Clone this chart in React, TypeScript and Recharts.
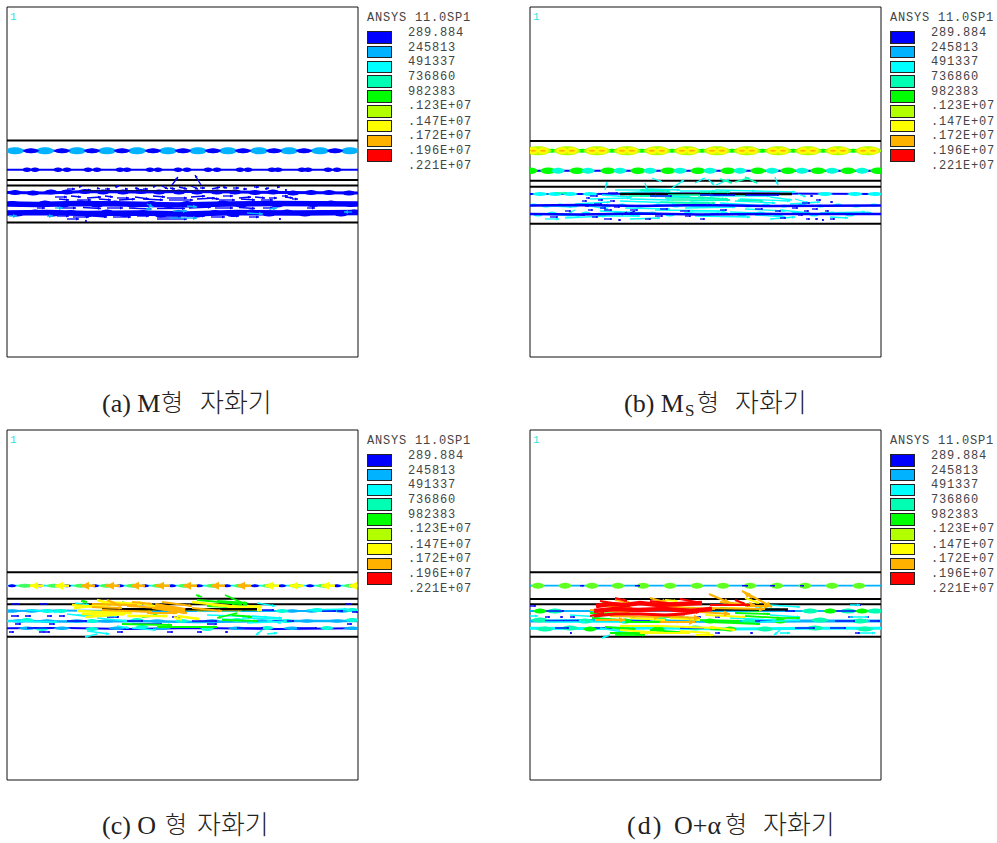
import React from "react";
import { ScatterChart, Scatter, XAxis, YAxis, ReferenceArea } from "recharts";

type P = [number, number];
type V = [number, number, number, number];

// legend
const LEGEND_COLORS = ["#0000ff", "#00b2ff", "#00ffff", "#00ffb2", "#00ff00", "#b2ff00", "#ffff00", "#ffb200", "#ff0000"];
const LEGEND_LABELS = ["289.884", "245813", "491337", "736860", "982383", ".123E+07", ".147E+07", ".172E+07", ".196E+07", ".221E+07"];
const [BLUE, SKY, CYAN, SPRING, GREEN, LIME, YELLOW, ORANGE, RED] = LEGEND_COLORS;
const BLACK = "#000000";

// horizontal outlines (depth of each steel / air boundary per panel)
const A_PLATES = [133.5, 173, 178.5, 215.5];
const B_PLATES = [134, 173.7, 179.7, 216.7];
const C_PLATES = [142.3, 168.7, 174.3, 206.7];
const D_PLATES = [142.3, 169, 174.3, 206.7];

// Panel A
const A_LINE_1: P[] = [[0, 143.7], [351, 143.7]];
const A_LINE_2: P[] = [[0, 162.7], [351, 162.7]];
const A_LINE_3: P[] = [[0, 185.5], [40, 186], [80, 184.5], [130, 185], [180, 184.5], [230, 185], [280, 185.5], [351, 186]];
const A_LINE_4: P[] = [[0, 197], [30, 197.5], [70, 196.5], [120, 197], [170, 198], [220, 197], [270, 196.5], [351, 197]];
const A_LINE_5: P[] = [[0, 206], [40, 205.5], [80, 206.5], [130, 206], [180, 207], [230, 205.5], [290, 206], [351, 205.5]];
const A_SKY_BLOBS: P[] = [[8, 143.7], [38, 143.7], [70, 143.7], [100, 143.7], [130, 143.7], [161, 143.7], [191, 143.7], [221, 143.7], [252, 143.7], [282, 143.7], [313, 143.7], [343, 143.7]];
const A_BLUE_BLOBS: P[] = [[24, 143.7], [55, 143.7], [85, 143.7], [115, 143.7], [146, 143.7], [176, 143.7], [206, 143.7], [236, 143.7], [267, 143.7], [297, 143.7], [328, 143.7]];
const A_SMALL_BLOBS: P[] = [[20, 162.7], [28, 162.7], [51, 162.7], [60, 162.7], [81, 162.7], [90, 162.7], [113, 162.7], [120, 162.7], [143, 162.7], [151, 162.7], [171, 162.7], [180, 162.7], [201, 162.7], [210, 162.7], [233, 162.7], [241, 162.7], [265, 162.7], [271, 162.7], [295, 162.7], [301, 162.7], [321, 162.7], [330, 162.7]];
const A_LUMPS: P[] = [
  [8, 185.5], [26, 186], [44, 185], [60, 185], [78, 184.5], [96, 185], [116, 185], [134, 184.5], [152, 185], [172, 185], [190, 185], [210, 185], [228, 185], [248, 185.5], [266, 185], [286, 186], [304, 185.5], [322, 185.5], [342, 186],
  [6, 196.5], [22, 197.5], [38, 196], [56, 198], [74, 196], [90, 198], [108, 196], [126, 198], [144, 196.5], [162, 198.5], [180, 196.5], [198, 198], [216, 196], [234, 198], [252, 196.5], [270, 198], [288, 196.5], [306, 197.5], [324, 196], [344, 197.5],
  [10, 207], [28, 205], [46, 207], [64, 205.5], [82, 207.5], [100, 205], [118, 207.5], [136, 205.5], [154, 208], [172, 205.5], [190, 208], [208, 205.5], [226, 207.5], [244, 205], [262, 207], [280, 205], [298, 207], [316, 205.5], [334, 207], [347, 205],
];
const A_ARROWS_BLUE: V[] = [
  [60, 182, 8, 0], [72, 180, 3, -1], [80, 183, 4, 0], [90, 181, 3, 1], [98, 182, 5, 0], [108, 180, 4, -1], [118, 182, 3, 0], [128, 181, 4, 1], [136, 182, 5, 0], [146, 180, 3, -1],
  [155, 179, 6, 3], [163, 181, 5, 1], [172, 180, 8, 2], [184, 179, 7, 3], [193, 181, 5, 0], [205, 182, 8, -2], [216, 180, 4, 1], [226, 181, 6, 0], [236, 182, 4, 0], [247, 180, 5, 0], [258, 182, 4, -1], [270, 180, 3, 0], [278, 183, 2, 0],
  [165, 178, 6, -8], [194, 178, -6, -10],
  [48, 190, 12, 0], [64, 189, 10, 1], [80, 191, 14, -1], [98, 189, 8, 1], [110, 191, 12, 0], [128, 190, 14, 2], [146, 189, 12, 1], [160, 191, 20, 0], [184, 190, 14, -1], [200, 191, 12, 1], [216, 189, 10, 0], [232, 191, 12, -1], [248, 190, 10, 1], [262, 191, 8, 0], [275, 189, 6, 0],
  [52, 192, 10, 1], [70, 193, 14, 0], [92, 192, 12, 1], [112, 193, 16, -1], [136, 192, 20, 1], [162, 193, 24, 0], [190, 192, 18, -1], [212, 193, 16, 0], [234, 192, 14, 1], [254, 193, 12, 0], [278, 190, 8, 1], [285, 192, 6, 0],
  [55, 201, 14, 0], [76, 200.5, 18, 1], [100, 201, 16, 0], [122, 201, 22, 1], [150, 201.5, 28, 0], [182, 201, 22, -1], [208, 201, 18, 0], [232, 200.5, 16, 1], [256, 201, 10, 0], [30, 201, 8, 0], [300, 201, 8, 0],
  [50, 209, 12, 0], [66, 210, 16, 0], [60, 212, 12, 0], [86, 209, 14, 1], [106, 210, 18, 0], [130, 209, 12, 0], [150, 210, 24, 0], [180, 209, 18, 0], [204, 210, 14, 0], [224, 209, 8, 0], [78, 214, 2, 0], [272, 212, 2, 0], [242, 210, 10, 0], [150, 212, 30, 0],
];
const A_ARROWS_SKY: V[] = [[162, 211, 28, 0], [48, 201, 8, 0], [145, 202, -6, 0], [140, 197, 6, 3], [240, 206, 16, 1], [262, 202, 8, -1], [2, 209, 8, 0], [40, 209, 6, 0], [166, 204, 14, 0], [180, 199, 10, 1], [345, 205, -8, 0]];
const A_PLATE_BLACK: P[] = [[75, 183.6], [232, 183.6]];

// Panel B
const B_TOP_LINE: P[] = [[0, 143.7], [351, 143.7]];
const B_MID_LINE: P[] = [[0, 163.7], [351, 163.7]];
const B_LOW_1: P[] = [[0, 187], [60, 187], [120, 186.5], [230, 186.5], [351, 187]];
const B_LOW_2: P[] = [[0, 198.5], [50, 198], [110, 199], [170, 198], [240, 199], [351, 198.5]];
const B_LOW_3: P[] = [[0, 207], [50, 207.5], [110, 206.5], [170, 207.5], [240, 207], [351, 207]];
const B_CLUSTERS: P[] = [[8, 143.7], [37, 143.7], [67, 143.7], [97, 143.7], [127, 143.7], [157, 143.7], [187, 143.7], [217, 143.7], [248, 143.7], [278, 143.7], [308, 143.7], [338, 143.7]];
const B_YELLOW_LOBES: P[] = [[3, 143.7], [13, 143.7], [32, 143.7], [42, 143.7], [62, 143.7], [72, 143.7], [92, 143.7], [102, 143.7], [122, 143.7], [132, 143.7], [152, 143.7], [162, 143.7], [182, 143.7], [192, 143.7], [212, 143.7], [222, 143.7], [243, 143.7], [253, 143.7], [273, 143.7], [283, 143.7], [303, 143.7], [313, 143.7], [333, 143.7], [343, 143.7]];
const B_SPRING_GAPS: P[] = [[22, 143.7], [52, 143.7], [82, 143.7], [112, 143.7], [142, 143.7], [172, 143.7], [202, 143.7], [232, 143.7], [263, 143.7], [293, 143.7], [323, 143.7]];
const B_GREEN_BLOBS: P[] = [[0, 163.7], [18, 163.7], [47, 163.7], [78, 163.7], [108, 163.7], [138, 163.7], [168, 163.7], [198, 163.7], [228, 163.7], [258, 163.7], [288, 163.7], [318, 163.7], [348, 163.7]];
const B_CYAN_BLOBS: P[] = [[28, 163.7], [58, 163.7], [90, 163.7], [120, 163.7], [150, 163.7], [180, 163.7], [210, 163.7], [242, 163.7], [272, 163.7], [302, 163.7], [332, 163.7]];
const B_LOW_BLOBS: P[] = [[25, 187], [40, 187], [60, 187], [295, 187], [325, 187], [345, 187], [10, 187]];
const B_LOW_SPECKS: P[] = [
  [4, 198], [16, 199], [30, 198], [44, 199], [60, 198], [76, 199], [92, 198], [110, 199], [128, 198], [146, 199], [164, 198], [182, 199], [200, 198], [218, 199], [236, 198], [254, 199], [272, 198], [290, 199], [308, 198], [326, 199], [344, 198],
  [8, 208], [22, 206], [38, 208], [56, 206], [72, 208], [88, 206], [104, 208], [122, 206], [140, 208], [158, 206], [176, 208], [194, 206], [212, 208], [230, 206], [248, 208], [266, 206], [284, 208], [302, 206], [320, 208], [338, 206],
];
const B_PLATE_BLACK: P[] = [[90, 187], [262, 187]];
const B_ARROWS_CYAN: V[] = [
  [75, 183, 2, -8], [122, 171, 10, 4], [142, 181, 12, -8], [165, 176, 10, -5], [178, 172, 6, 6], [186, 178, 14, -6], [245, 170, 3, 8], [115, 176, 4, 12], [90, 186, 40, -2], [125, 184, 30, 3],
  [60, 192, 40, -1], [45, 197, 35, -2], [90, 194, 55, 2], [110, 189, 50, 1], [150, 190, 45, 2], [180, 189, 60, 0], [210, 192, 50, 2], [240, 190, 22, 3], [130, 198, 60, 2], [190, 196, 50, 3], [2, 198, 40, 2], [260, 197, 30, -2],
  [70, 204, 50, 2], [125, 203, 70, 1], [200, 205, 55, 2], [10, 207, 40, 2], [70, 209, 40, 0], [250, 203, 30, 3], [290, 206, 45, -1], [165, 209, 55, 1], [225, 208, 30, 2],
  [85, 183, 30, 0], [115, 182, 35, 1], [150, 184, 35, 0], [185, 183, 40, 1], [225, 184, 40, 1], [72, 188, 30, 2], [100, 192, 40, 1], [160, 194, 40, -1], [205, 194, 40, 2], [95, 201, 45, 1], [155, 201, 50, -1], [215, 202, 40, 2], [265, 192, 14, 4], [268, 187, 8, 3],
  [60, 199, 18, 3], [45, 203, -6, 3], [35, 211, 40, -2], [100, 212, 30, -1], [160, 205, 30, 0], [240, 212, 25, -2], [300, 210, 18, 1], [15, 212, 14, 0],
];
const B_ARROWS_SPRING: V[] = [[135, 191, 40, 0], [140, 193, 60, 0], [168, 190, 30, 2], [190, 172, 12, 4], [205, 175, 14, -4], [130, 195, 50, 1], [100, 189, 28, 0], [208, 193, 25, 1], [215, 170, 12, 6], [138, 188, 45, 0], [145, 196, 40, 0], [110, 183, 30, 1], [170, 185, 30, 0], [25, 186, 12, 0]];
const B_ARROWS_BLUE: V[] = [
  [60, 189, 8, 0], [78, 186, 10, 0], [52, 194, 5, 0], [64, 197, 8, 0], [55, 199, 4, 0], [70, 201, 6, 0], [80, 194, 5, 0], [74, 203, 8, 0], [62, 210, 6, 0], [50, 208, 5, 0], [74, 212, 8, 0], [88, 213, 3, 0], [92, 208, 5, -3], [100, 206, 5, -2], [125, 209, 8, 0], [155, 209, 6, 0], [170, 212, 5, 0],
  [280, 189, 3, 0], [286, 193, 5, 0], [272, 196, 8, 0], [290, 199, 4, 0], [300, 195, 3, 0], [268, 208, 5, 0], [282, 202, 6, 0], [276, 212, 4, 0], [285, 212, 3, 0], [292, 213, 2, 0], [180, 207, 8, 0], [120, 189, 22, 0], [170, 188, 35, 0], [215, 188, 34, 0],
  [56, 191, 4, 0], [68, 193, 5, 0], [58, 203, 5, 0], [84, 200, 6, 0], [100, 203, 8, 0], [130, 202, 8, 0], [150, 204, 10, 0], [190, 203, 7, 0], [225, 202, 8, 0], [245, 204, 6, 0], [262, 201, 6, 0], [274, 204, 5, 0], [295, 204, 4, 0], [20, 210, 8, 0], [35, 204, 6, 0], [115, 212, 6, 0], [250, 211, 6, 0], [300, 212, 5, 0],
];

// Panel C
const C_TOP_LINE: P[] = [[0, 155.7], [351, 155.7]];
const C_LOW_1: P[] = [[0, 181], [50, 180.5], [110, 181], [230, 181], [351, 181]];
const C_LOW_2: P[] = [[0, 191], [60, 191.5], [120, 191], [190, 192], [270, 191], [351, 191]];
const C_LOW_3: P[] = [[0, 198.3], [60, 198], [120, 199], [190, 198], [270, 199], [351, 198.3]];
const C_BLUE_BLOBS: P[] = [[5, 155.7], [33, 155.7], [60, 155.7], [88, 155.7], [113, 155.7], [138, 155.7], [165, 155.7], [192, 155.7], [220, 155.7], [248, 155.7], [275, 155.7], [303, 155.7], [330, 155.7]];
const C_HALO_BLOBS: P[] = [[18, 155.7], [47, 155.7], [74, 155.7], [100, 155.7], [126, 155.7], [152, 155.7], [178, 155.7], [206, 155.7], [234, 155.7], [262, 155.7], [289, 155.7], [317, 155.7], [344, 155.7]];
const C_YELLOW_CHEV: V[] = [[37, 155.7, -14, 0], [62, 155.7, -14, 0], [272, 155.7, -14, 0], [297, 155.7, -14, 0], [328, 155.7, -14, 0], [350, 155.7, -8, 0]];
const C_ORANGE_CHEV: V[] = [[88, 155.7, -14, 0], [113, 155.7, -14, 0], [138, 155.7, -14, 0], [163, 155.7, -14, 0], [190, 155.7, -14, 0], [218, 155.7, -14, 0], [244, 155.7, -14, 0]];
const C_LOW_SKY: P[] = [[5, 181], [25, 181], [285, 181], [305, 181], [335, 181], [12, 191], [40, 191], [70, 191], [100, 191], [150, 191], [205, 191], [255, 191], [300, 191], [330, 191], [20, 198.3], [55, 198.3], [110, 198.3], [155, 198.3], [230, 198.3], [285, 198.3], [345, 198.3]];
const C_LOW_CYAN: P[] = [[40, 181], [54, 181], [275, 181], [310, 180], [345, 180], [20, 190], [85, 191], [130, 190], [175, 191], [230, 190], [280, 191], [345, 190], [35, 199], [85, 199], [135, 197], [200, 199], [260, 198], [320, 198]];
const C_BLUE_DOTS: V[] = [[4, 174, 8, 0], [32, 174, 8, 0], [4, 186, 8, 0], [18, 186, 6, 0], [40, 186, 5, 0], [52, 186, 6, 0], [8, 194, 6, 0], [42, 194, 6, 0], [32, 202, 6, 0], [38, 202, 5, 0], [2, 202, 5, 0], [110, 202, 6, 0], [160, 202, 6, 0], [190, 202, 5, 0], [218, 202, 3, 0], [340, 194, 5, 0], [338, 174, 6, 0], [100, 187, 12, 0], [165, 187, 8, 0], [125, 194, 30, 0], [200, 194, 10, 0], [185, 191, 25, 0], [60, 191, 20, 0], [20, 198, 24, 0], [120, 191, 16, 0], [230, 198, 26, 0], [290, 198, 20, 0], [265, 191, 22, 0], [315, 181, 14, 0], [330, 181, 6, 0], [255, 180, 12, 0], [345, 182, 6, 0]];
const C_CYAN_ARROWS: V[] = [[68, 173, 14, 2], [70, 185, 40, 1], [90, 188, 30, 3], [200, 185, 60, 2], [235, 188, 40, 1], [80, 201, 22, 3], [90, 204, -12, 3], [20, 180, 30, 2], [0, 191, 50, 1], [250, 173, 18, 3], [240, 193, 40, -2], [255, 200, -6, 5], [260, 204, 10, -1], [300, 180, 40, -1], [60, 184, 25, 3], [215, 189, 35, 2], [245, 186, 30, 2], [110, 196, 12, 2], [125, 198, 24, 2], [260, 190, 14, 3]];
const C_GREEN_ARROWS: V[] = [[190, 170, 45, 4], [218, 165, 22, 10], [195, 167, -6, -2], [225, 175, 25, 3], [230, 183, -20, 5], [115, 172, 14, 4], [80, 172, -6, -1], [135, 187, 15, -2], [225, 185, 20, 2], [115, 194, 50, 1], [150, 197, 60, 0], [215, 190, 35, 1], [210, 171, 30, 2], [200, 176, 45, 2], [230, 180, 25, 0]];
const C_YELLOW_ARROWS: V[] = [[67, 178, 35, -4], [90, 170, 18, 5], [65, 175, 50, 4], [70, 181, 55, 2], [130, 172, 25, 6], [150, 178, 45, 2], [185, 172, 45, 5], [78, 187, 40, -3], [170, 186, 22, 3], [205, 175, 48, 3], [110, 182, 40, -3], [175, 190, -8, -3], [75, 184, 35, -1], [95, 172, 40, 2], [220, 178, 35, 2], [240, 176, 15, 1], [190, 180, 45, 0], [120, 186, 40, 0]];
const C_ORANGE_ARROWS: V[] = [[85, 174, 45, 1], [100, 170, 14, 6], [120, 176, 50, 3], [145, 178, 35, 5], [155, 172, 30, 4], [185, 178, 30, 3], [140, 183, 30, 0], [95, 180, 50, 2], [125, 172, 20, 2], [85, 177, 30, 1]];
const C_ORANGE_CORE: P[] = [[148, 176], [160, 178], [178, 181]];
const C_PLATE_BLACK: P[] = [[95, 179.3], [250, 179.3]];

// Panel D
const D_TOP_LINE: P[] = [[0, 155.7], [351, 155.7]];
const D_LOW_1: P[] = [[0, 181], [60, 181], [120, 181], [240, 181], [351, 181]];
const D_LOW_2: P[] = [[0, 191], [60, 190.5], [130, 191], [200, 191.5], [280, 191], [351, 191]];
const D_LOW_3: P[] = [[0, 198.3], [60, 198.5], [130, 198], [200, 199], [280, 198.3], [351, 198.3]];
const D_GREEN_BLOBS: P[] = [[8, 155.7], [35, 155.7], [62, 155.7], [88, 155.7], [113, 155.7], [140, 155.7], [167, 155.7], [193, 155.7], [220, 155.7], [247, 155.7], [275, 155.7], [302, 155.7], [329, 155.7]];
const D_BLUE_BITS: V[] = [[50, 155.7, 4, 0], [105, 155.7, 5, 0], [212, 155.7, 6, 0], [240, 155.7, 5, 0], [270, 155.7, 4, 0], [10, 181, 24, 0], [300, 181, 30, 0], [15, 191, 20, 0], [90, 191, 30, 0], [225, 191, 30, 0], [265, 198, 20, 0], [60, 198, 22, 0], [150, 198, 24, 0], [0, 176, 6, 0], [325, 175, 6, 0], [15, 187, 5, 0], [30, 187, 3, 0], [40, 187, 5, 0], [100, 187, 5, 0], [145, 187, 8, 0], [165, 187, 6, 0], [185, 187, 5, 0], [318, 187, 5, 0], [335, 187, 4, 0], [40, 203, 2, 0], [105, 204, 10, 0], [185, 203, 5, 0], [220, 203, 3, 0], [325, 203, 5, 0], [35, 191, 14, 0], [305, 191, 20, 0], [340, 191, 10, 0], [25, 198, 14, 0], [300, 198, 16, 0], [255, 181, 10, 0]];
const D_LOW_GREEN: P[] = [[10, 181], [300, 181], [332, 181], [95, 191], [180, 191], [250, 191], [60, 199], [128, 199], [200, 199]];
const D_LOW_SPRING: P[] = [[25, 181], [280, 181], [318, 181], [345, 181], [10, 190], [55, 191], [130, 190], [220, 191], [290, 190], [330, 191], [15, 199], [40, 198], [95, 199], [165, 198], [235, 199], [285, 198], [335, 199]];
const D_CYAN_ARROWS: V[] = [[40, 185, 30, 2], [60, 192, 35, 0], [15, 192, 40, 0], [70, 198, 28, 5], [80, 205, -8, 3], [240, 175, 30, 2], [230, 192, 40, -2], [250, 200, -6, 5], [200, 188, 45, 2], [0, 186, 8, 0], [320, 175, 10, 0], [320, 187, 18, 0], [330, 203, 15, 0], [250, 203, 10, 0], [240, 185, 30, 2], [225, 178, 25, 1]];
const D_GREEN_ARROWS: V[] = [[60, 183, 45, 1], [62, 188, 30, 2], [100, 192, 50, 0], [80, 203, 40, 0], [120, 200, 40, 3], [180, 192, 50, 2], [215, 186, 35, 2], [250, 188, 20, 0], [120, 186, 40, 2], [190, 178, 40, 3], [72, 172, 6, 0], [85, 205, 30, 0], [165, 190, 45, 1], [205, 183, 35, 1], [75, 197, 30, 2], [180, 199, 20, 1]];
const D_YELLOW_ARROWS: V[] = [[65, 182, 30, -2], [90, 200, 45, 3], [110, 203, 50, 0], [130, 196, 55, 2], [180, 197, 25, 3], [175, 185, 40, 2], [215, 168, 14, 5], [135, 170, 12, 1], [90, 171, 10, 2], [165, 205, 18, 0], [100, 188, 35, 2], [90, 196, 40, 0], [140, 188, 30, 2], [200, 178, 20, 1], [150, 201, 30, 2]];
const D_ORANGE_ARROWS: V[] = [[179, 164, 21, 9], [212, 161, 30, 16], [222, 168, -8, -6], [190, 172, 35, 3], [215, 176, 25, 0], [85, 170, 14, 2], [110, 173, 28, 0], [120, 168, 18, 5], [60, 180, 40, 2], [125, 186, 45, 2], [170, 182, 30, 2], [130, 192, 35, 0], [72, 176, 30, 2], [80, 186, 50, 1], [175, 178, 60, 1], [65, 190, 30, 0], [125, 176, 60, 3]];
const D_RED_FILL_1: P[] = [[66, 176], [80, 174], [95, 175], [110, 173], [128, 175], [150, 174], [172, 173]];
const D_RED_FILL_2: P[] = [[64, 181], [85, 179], [108, 180], [135, 179], [160, 181], [182, 179]];
const D_RED_FILL_3: P[] = [[64, 186], [85, 184], [110, 184], [135, 185], [155, 184]];
const D_RED_ARROWS: V[] = [[85, 168, 12, 3], [60, 186, 14, -3], [70, 171, 30, 5], [120, 171, 24, 3], [150, 169, 22, 4], [180, 175, 40, 0], [205, 170, 10, 4], [155, 184, 14, -2]];
const D_PLATE_BLACK: P[] = [[130, 179.5], [258, 179.5]];

const DOMAIN_X: [number, number] = [0, 351];
const DOMAIN_Y: [number, number] = [0, 350];
const PAD = 12;

const toPts = (a: P[]) => a.map(([x, y]) => ({ x, y }));
const toVecs = (a: V[]) => a.map(([x, y, dx, dy]) => ({ x, y, dx, dy }));

type Layer =
  | { kind: "line"; color: string; width: number; data: P[] }
  | { kind: "blob"; color: string; len: number; thick: number; data: P[] }
  | { kind: "arrow"; color: string; width: number; head: number; data: V[] };

const blobShape = (color: string, len: number, thick: number) => (p: any) => {
  const l = len / 2;
  const t = thick / 2;
  const a = l * 0.6;
  const { cx, cy } = p;
  const d = `M${cx - l},${cy} Q${cx - a},${cy - t * 1.1} ${cx},${cy - t} Q${cx + a},${cy - t * 1.1} ${cx + l},${cy} Q${cx + a},${cy + t * 1.1} ${cx},${cy + t} Q${cx - a},${cy + t * 1.1} ${cx - l},${cy}Z`;
  return <path d={d} fill={color} />;
};

const arrowShape = (color: string, width: number, head: number) => (p: any) => {
  const { cx, cy } = p;
  const { dx, dy } = p.payload;
  const m = Math.hypot(dx, dy) || 1;
  const ux = dx / m;
  const uy = dy / m;
  const tx = cx + dx;
  const ty = cy + dy;
  const h = Math.min(head, m);
  const w = h * 0.5;
  const d = `M${tx},${ty} L${tx - ux * h - uy * w},${ty - uy * h + ux * w} L${tx - ux * h + uy * w},${ty - uy * h - ux * w}Z`;
  return (
    <g>
      <line x1={cx} y1={cy} x2={tx} y2={ty} stroke={color} strokeWidth={width} />
      <path d={d} fill={color} />
    </g>
  );
};

const noDot = () => <g />;

function Panel({ left, top, plates, layers }: { left: number; top: number; plates: number[]; layers: Layer[] }) {
  return (
    <div style={{ position: "absolute", left: left - PAD, top: top - PAD }}>
      <ScatterChart width={351 + PAD * 2} height={350 + PAD * 2} margin={{ top: PAD, right: PAD, bottom: PAD, left: PAD }}>
        <XAxis type="number" dataKey="x" domain={DOMAIN_X} allowDataOverflow hide />
        <YAxis type="number" dataKey="y" domain={DOMAIN_Y} allowDataOverflow reversed hide />
        <ReferenceArea x1={0} x2={351} y1={0} y2={350} fill="none" stroke="#111" strokeWidth={1} fillOpacity={0} ifOverflow="visible" />
        {plates.map((y, i) => (
          <Scatter key={`p${i}`} data={toPts([[0, y], [351, y]])} line={{ stroke: BLACK, strokeWidth: 2 }} shape={noDot} isAnimationActive={false} />
        ))}
        {layers.map((l, i) => {
          if (l.kind === "line")
            return <Scatter key={i} data={toPts(l.data)} line={{ stroke: l.color, strokeWidth: l.width }} shape={noDot} isAnimationActive={false} />;
          if (l.kind === "blob")
            return <Scatter key={i} data={toPts(l.data)} shape={blobShape(l.color, l.len, l.thick)} isAnimationActive={false} />;
          return <Scatter key={i} data={toVecs(l.data)} shape={arrowShape(l.color, l.width, l.head)} isAnimationActive={false} />;
        })}
      </ScatterChart>
    </div>
  );
}

const LAYERS_A: Layer[] = [
  { kind: "line", color: BLUE, width: 2, data: A_LINE_1 },
  { kind: "line", color: BLUE, width: 2, data: A_LINE_2 },
  { kind: "blob", color: SKY, len: 20, thick: 7, data: A_SKY_BLOBS },
  { kind: "blob", color: BLUE, len: 17, thick: 5, data: A_BLUE_BLOBS },
  { kind: "blob", color: BLUE, len: 10, thick: 4.5, data: A_SMALL_BLOBS },
  { kind: "line", color: BLUE, width: 3, data: A_LINE_3 },
  { kind: "line", color: BLUE, width: 5.5, data: A_LINE_4 },
  { kind: "line", color: BLUE, width: 5.5, data: A_LINE_5 },
  { kind: "blob", color: BLUE, len: 15, thick: 5, data: A_LUMPS },
  { kind: "arrow", color: BLUE, width: 1.3, head: 3, data: A_ARROWS_BLUE },
  { kind: "arrow", color: SKY, width: 1.3, head: 4, data: A_ARROWS_SKY },
  { kind: "line", color: "#101060", width: 1.2, data: A_PLATE_BLACK },
];

const LAYERS_B: Layer[] = [
  { kind: "line", color: SPRING, width: 2, data: B_TOP_LINE },
  { kind: "blob", color: GREEN, len: 12, thick: 4, data: B_SPRING_GAPS },
  { kind: "blob", color: LIME, len: 28, thick: 9, data: B_CLUSTERS },
  { kind: "blob", color: YELLOW, len: 12, thick: 7, data: B_YELLOW_LOBES },
  { kind: "blob", color: ORANGE, len: 7, thick: 2, data: B_YELLOW_LOBES },
  { kind: "line", color: BLUE, width: 2, data: B_MID_LINE },
  { kind: "blob", color: GREEN, len: 16, thick: 6.5, data: B_GREEN_BLOBS },
  { kind: "blob", color: "#00ffd8", len: 14, thick: 6, data: B_CYAN_BLOBS },
  { kind: "line", color: BLUE, width: 2, data: B_LOW_1 },
  { kind: "blob", color: CYAN, len: 16, thick: 4, data: B_LOW_BLOBS },
  { kind: "arrow", color: CYAN, width: 1.3, head: 3, data: B_ARROWS_CYAN },
  { kind: "line", color: BLACK, width: 2.5, data: B_PLATE_BLACK },
  { kind: "blob", color: CYAN, len: 10, thick: 3, data: B_LOW_SPECKS },
  { kind: "line", color: BLUE, width: 2.5, data: B_LOW_2 },
  { kind: "line", color: BLUE, width: 2.5, data: B_LOW_3 },
  { kind: "arrow", color: SPRING, width: 1.6, head: 3, data: B_ARROWS_SPRING },
  { kind: "arrow", color: BLUE, width: 1.3, head: 2, data: B_ARROWS_BLUE },
];

const LAYERS_C: Layer[] = [
  { kind: "line", color: CYAN, width: 1.8, data: C_TOP_LINE },
  { kind: "blob", color: "#40ff60", len: 16, thick: 4, data: C_HALO_BLOBS },
  { kind: "blob", color: BLUE, len: 9, thick: 3, data: C_BLUE_BLOBS },
  { kind: "arrow", color: YELLOW, width: 2.5, head: 8, data: C_YELLOW_CHEV },
  { kind: "arrow", color: ORANGE, width: 2.5, head: 8, data: C_ORANGE_CHEV },
  { kind: "line", color: SKY, width: 2, data: C_LOW_1 },
  { kind: "line", color: SKY, width: 2.5, data: C_LOW_2 },
  { kind: "line", color: BLUE, width: 2, data: C_LOW_3 },
  { kind: "blob", color: SKY, len: 18, thick: 3.5, data: C_LOW_SKY },
  { kind: "blob", color: "#00ffd8", len: 14, thick: 4, data: C_LOW_CYAN },
  { kind: "arrow", color: BLUE, width: 1.5, head: 2, data: C_BLUE_DOTS },
  { kind: "arrow", color: CYAN, width: 1.5, head: 3, data: C_CYAN_ARROWS },
  { kind: "arrow", color: GREEN, width: 1.8, head: 3.5, data: C_GREEN_ARROWS },
  { kind: "arrow", color: YELLOW, width: 2.4, head: 4, data: C_YELLOW_ARROWS },
  { kind: "line", color: BLACK, width: 2.5, data: C_PLATE_BLACK },
  { kind: "arrow", color: ORANGE, width: 2, head: 3.5, data: C_ORANGE_ARROWS },
  { kind: "line", color: ORANGE, width: 6, data: C_ORANGE_CORE },
];

const LAYERS_D: Layer[] = [
  { kind: "line", color: SKY, width: 1.8, data: D_TOP_LINE },
  { kind: "blob", color: "#60ff20", len: 14, thick: 6, data: D_GREEN_BLOBS },
  { kind: "line", color: SKY, width: 2, data: D_LOW_1 },
  { kind: "line", color: SKY, width: 3, data: D_LOW_2 },
  { kind: "line", color: CYAN, width: 3, data: D_LOW_3 },
  { kind: "blob", color: SPRING, len: 18, thick: 5, data: D_LOW_SPRING },
  { kind: "arrow", color: BLUE, width: 1.4, head: 2, data: D_BLUE_BITS },
  { kind: "blob", color: GREEN, len: 14, thick: 5, data: D_LOW_GREEN },
  { kind: "arrow", color: CYAN, width: 1.5, head: 3, data: D_CYAN_ARROWS },
  { kind: "arrow", color: GREEN, width: 1.8, head: 3, data: D_GREEN_ARROWS },
  { kind: "arrow", color: YELLOW, width: 2, head: 3, data: D_YELLOW_ARROWS },
  { kind: "line", color: BLACK, width: 2.5, data: D_PLATE_BLACK },
  { kind: "arrow", color: ORANGE, width: 2, head: 6, data: D_ORANGE_ARROWS },
  { kind: "line", color: RED, width: 4.5, data: D_RED_FILL_1 },
  { kind: "line", color: RED, width: 4.5, data: D_RED_FILL_2 },
  { kind: "line", color: RED, width: 3, data: D_RED_FILL_3 },
  { kind: "arrow", color: RED, width: 2, head: 3, data: D_RED_ARROWS },
];

const mono: React.CSSProperties = {
  position: "absolute",
  fontFamily: "'Liberation Mono', monospace",
  fontSize: 12,
  letterSpacing: 0.8,
  lineHeight: "12px",
  color: "#444",
  whiteSpace: "pre",
};

const LABEL_TOPS = [26, 41, 55, 70, 85, 99, 115, 129, 144, 159];

function Annotation({ left, top }: { left: number; top: number }) {
  return (
    <>
      <div style={{ ...mono, left: left + 3, top: top + 4, color: "#30e0e0", fontSize: 11 }}>1</div>
      <div style={{ ...mono, left: left + 360, top: top + 5 }}>ANSYS 11.0SP1</div>
      {LEGEND_COLORS.map((c, i) => (
        <div
          key={c}
          style={{
            position: "absolute",
            left: left + 360,
            top: top + 24 + i * 14.8,
            width: 23,
            height: 10.5,
            background: c,
            border: "1px solid #222",
          }}
        />
      ))}
      {LEGEND_LABELS.map((t, i) => (
        <div key={t} style={{ ...mono, left: left + 401, top: top - 6 + LABEL_TOPS[i] }}>{t}</div>
      ))}
    </>
  );
}

const latin: React.CSSProperties = {
  position: "absolute",
  fontFamily: "'Liberation Serif', serif",
  fontSize: 26,
  lineHeight: "30px",
  color: "#222",
  whiteSpace: "pre",
};
const hangul: React.CSSProperties = {
  position: "absolute",
  fontFamily: "'Noto Sans CJK KR', sans-serif",
  fontWeight: 300,
  fontSize: 26,
  lineHeight: "30px",
  color: "#222",
  whiteSpace: "pre",
};
const SUFFIX = "형";
const WORD = "자화기";

export default function App() {
  return (
    <div style={{ position: "absolute", left: 0, top: 0, width: 997, height: 843, background: "#fff", overflow: "hidden" }}>
      <Panel left={7} top={7} plates={A_PLATES} layers={LAYERS_A} />
      <Panel left={530} top={7} plates={B_PLATES} layers={LAYERS_B} />
      <Panel left={7} top={430} plates={C_PLATES} layers={LAYERS_C} />
      <Panel left={530} top={430} plates={D_PLATES} layers={LAYERS_D} />
      <Annotation left={7} top={7} />
      <Annotation left={530} top={7} />
      <Annotation left={7} top={430} />
      <Annotation left={530} top={430} />

      <div style={{ ...latin, left: 102, top: 389 }}>(a) M</div>
      <div style={{ ...hangul, left: 161, top: 386, fontSize: 24 }}>{SUFFIX}</div>
      <div style={{ ...hangul, left: 200, top: 386 }}>{WORD}</div>

      <div style={{ ...latin, left: 624, top: 389 }}>(b) M</div>
      <div style={{ ...latin, left: 685, top: 396, fontSize: 17 }}>S</div>
      <div style={{ ...hangul, left: 697, top: 386, fontSize: 24 }}>{SUFFIX}</div>
      <div style={{ ...hangul, left: 735, top: 386 }}>{WORD}</div>

      <div style={{ ...latin, left: 102, top: 811 }}>(c) O</div>
      <div style={{ ...hangul, left: 165, top: 808, fontSize: 24 }}>{SUFFIX}</div>
      <div style={{ ...hangul, left: 197, top: 808 }}>{WORD}</div>

      <div style={{ ...latin, left: 627, top: 811, letterSpacing: 2 }}>(d)</div>
      <div style={{ ...latin, left: 674, top: 811 }}>O+α</div>
      <div style={{ ...hangul, left: 725, top: 808, fontSize: 24 }}>{SUFFIX}</div>
      <div style={{ ...hangul, left: 763, top: 808 }}>{WORD}</div>
    </div>
  );
}
